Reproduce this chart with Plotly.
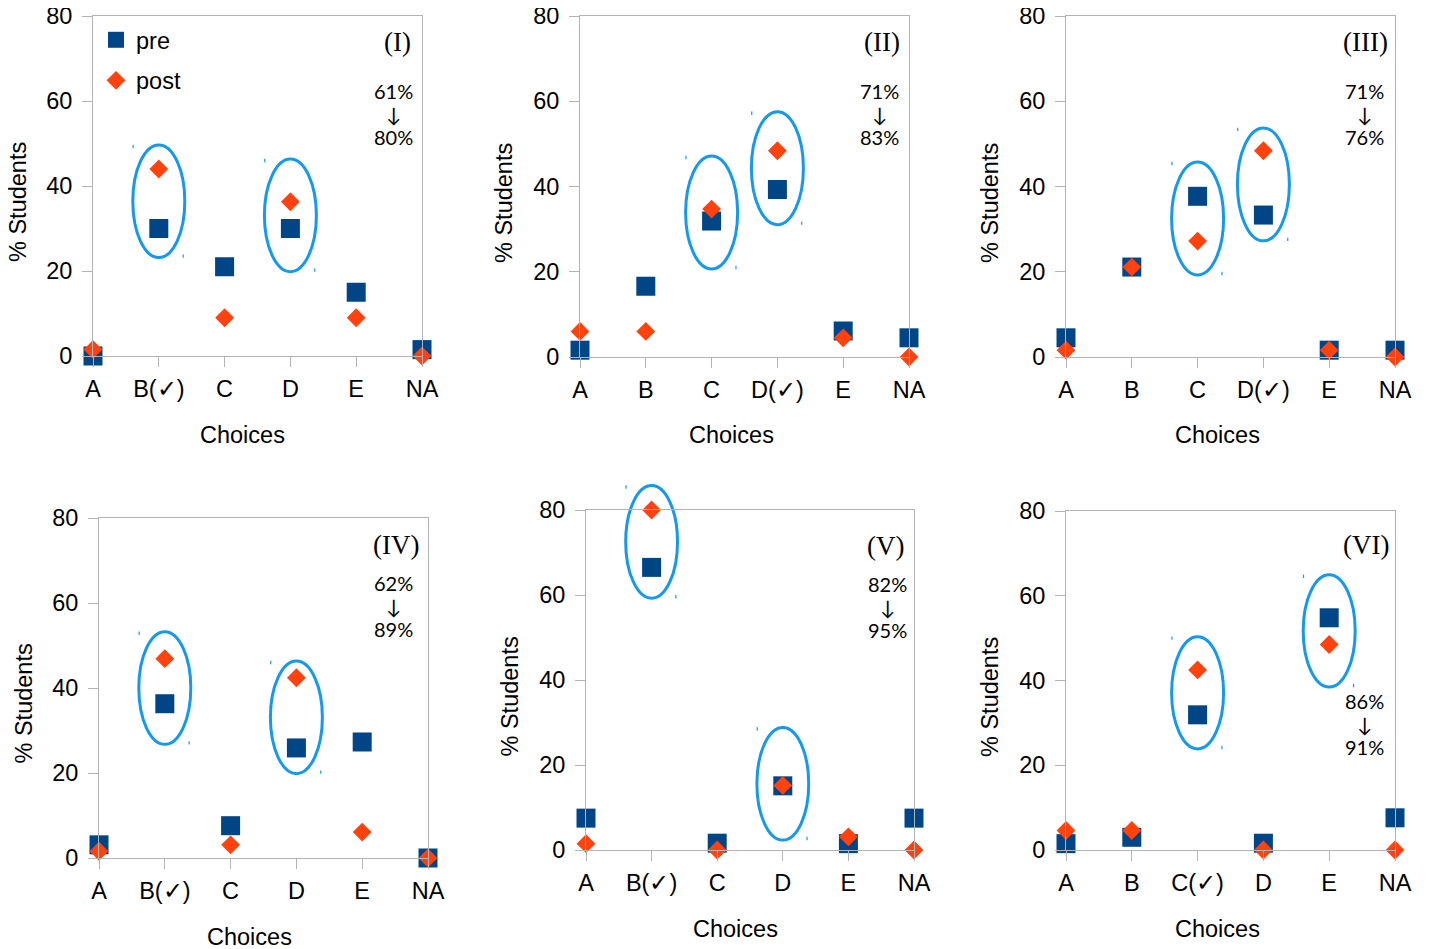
import plotly.graph_objects as go

# ---------------- data ----------------
cats_I = ["A", "B(✓)", "C", "D", "E", "NA"]
pre_I = [0, 30, 21, 30, 15, 1.5]
post_I = [1.5, 44, 9, 36.3, 9, 0]

cats_II = ["A", "B", "C", "D(✓)", "E", "NA"]
pre_II = [1.6, 16.6, 31.9, 39.3, 6.1, 4.5]
post_II = [6.0, 6.0, 34.7, 48.4, 4.5, 0]

cats_III = ["A", "B", "C", "D(✓)", "E", "NA"]
pre_III = [4.5, 21.1, 37.7, 33.3, 1.6, 1.6]
post_III = [1.6, 21.1, 27.2, 48.4, 1.6, 0]

cats_IV = ["A", "B(✓)", "C", "D", "E", "NA"]
pre_IV = [3.1, 36.3, 7.6, 25.9, 27.3, 0]
post_IV = [1.6, 46.9, 3.1, 42.4, 6.1, 0]

cats_V = ["A", "B(✓)", "C", "D", "E", "NA"]
pre_V = [7.5, 66.5, 1.6, 15.1, 1.5, 7.5]
post_V = [1.5, 80, 0, 15.2, 3.1, 0]

cats_VI = ["A", "B", "C(✓)", "D", "E", "NA"]
pre_VI = [1.5, 3.0, 31.9, 1.6, 54.8, 7.6]
post_VI = [4.6, 4.6, 42.5, 0, 48.5, 0]

panel_labels = ["(I)", "(II)", "(III)", "(IV)", "(V)", "(VI)"]
pct_before = ["61%", "71%", "71%", "62%", "82%", "86%"]
pct_after = ["80%", "83%", "76%", "89%", "95%", "91%"]

# circled choices (category index) and the value at the ellipse centre
circled_idx = [[1, 3], [2, 3], [2, 3], [1, 3], [1, 3], [2, 4]]
circled_mid = [[36.4, 33.1], [33.9, 44.3], [32.5, 40.5], [40.0, 33.1], [72.5, 15.6], [37.1, 51.7]]

cats = [cats_I, cats_II, cats_III, cats_IV, cats_V, cats_VI]
pres = [pre_I, pre_II, pre_III, pre_IV, pre_V, pre_VI]
posts = [post_I, post_II, post_III, post_IV, post_V, post_VI]

# ---------------- layout geometry (screen pixels) ----------------
W, H = 1430, 949
OFF = 8  # page body margin
boxes = [  # left, right, top, bottom of each plot area
    (93, 422, 16, 356),
    (580, 909, 16, 357),
    (1066, 1395, 16, 357),
    (99, 428, 518, 858),
    (586, 914, 510, 850),
    (1066, 1395, 511, 850),
]
label_pos = [(398, 42), (882, 42), (1365, 42), (396, 545), (886, 546), (1366, 545)]
pct_pos = [  # x, y of the arrow (middle line)
    (394, 114),
    (879, 114),
    (1364, 114),
    (394, 606),
    (887, 606.5),
    (1364, 724),
]
ytitle_pos = [(18, 202), (504, 203), (990, 203), (23.5, 704), (509.5, 697), (990, 697)]
xtitle_pos = [(243, 435), (731, 435), (1217, 435), (249, 937), (736, 929), (1217, 929)]

PRE_C = "#004586"
POST_C = "#ff420e"
RING_C = "#1499ee"
GRID_C = "#b3b3b3"
FONT = "Liberation Sans, Arial, sans-serif"
FS = 23.5

def px(x):
    return (x - OFF) / W

def py(y):
    return 1 - (y - OFF) / H

fig = go.Figure()
layout = dict(
    template="none",
    width=W, height=H, margin=dict(l=0, r=0, t=0, b=0, pad=0, autoexpand=False),
    paper_bgcolor="white", plot_bgcolor="white",
    font=dict(family=FONT, size=FS, color="black"),
    showlegend=True,
    legend=dict(x=px(96), y=py(18), xanchor="left", yanchor="top",
                bgcolor="rgba(0,0,0,0)", font=dict(size=FS),
                tracegroupgap=7, itemwidth=30),
)
annotations = []
shapes = []

for i in range(6):
    k = "" if i == 0 else str(i + 1)
    xa, ya = "x" + k, "y" + k
    l, r, t, b = boxes[i]
    fig.add_trace(go.Scatter(
        x=cats[i], y=pres[i], mode="markers", name="pre",
        marker=dict(symbol="square", size=19, color=PRE_C),
        xaxis=xa, yaxis=ya, cliponaxis=False, showlegend=(i == 0),
        legendgroup="pre"))
    fig.add_trace(go.Scatter(
        x=cats[i], y=posts[i], mode="markers", name="post",
        marker=dict(symbol="diamond", size=14.5, color=POST_C),
        xaxis=xa, yaxis=ya, cliponaxis=False, showlegend=(i == 0),
        legendgroup="post"))
    layout["xaxis" + k] = dict(
        domain=[px(l), px(r)], anchor=ya, type="category",
        categoryorder="array", categoryarray=cats[i], range=[0, 5],
        showgrid=False, zeroline=False, showline=True, mirror=True,
        linecolor=GRID_C, linewidth=1, ticks="outside", ticklen=10,
        tickcolor=GRID_C, tickfont=dict(size=FS), ticklabelstandoff=2,
        ticklabeloverflow="allow", fixedrange=True, automargin=False)
    layout["yaxis" + k] = dict(
        domain=[py(b), py(t)], anchor=xa, range=[0, 80],
        tickvals=[0, 20, 40, 60, 80], showgrid=False, zeroline=False,
        showline=True, mirror=True, linecolor=GRID_C, linewidth=1,
        ticks="outside", ticklen=10, tickcolor=GRID_C,
        tickfont=dict(size=FS), ticklabelstandoff=5,
        ticklabeloverflow="allow", fixedrange=True, automargin=False)

    # ellipses around the key choices
    for ci, mid in zip(circled_idx[i], circled_mid[i]):
        shapes.append(dict(
            type="circle", xref=xa, yref=ya + " domain",
            x0=ci - 0.395, x1=ci + 0.395,
            y0=(mid - 13.25) / 80, y1=(mid + 13.25) / 80,
            line=dict(color=RING_C, width=3), layer="below"))
        shapes.append(dict(
            type="line", xref=xa, yref=ya + " domain",
            x0=ci - 0.39, x1=ci - 0.39,
            y0=(mid + 13.3) / 80, y1=(mid + 12.5) / 80,
            line=dict(color=RING_C, width=1.2)))
        shapes.append(dict(
            type="line", xref=xa, yref=ya + " domain",
            x0=ci + 0.37, x1=ci + 0.37,
            y0=(mid - 13.3) / 80, y1=(mid - 12.5) / 80,
            line=dict(color=RING_C, width=1.2)))

    lx, ly = label_pos[i]
    annotations.append(dict(
        text=panel_labels[i], x=px(lx), y=py(ly), xref="paper", yref="paper",
        xanchor="center", yanchor="middle", showarrow=False,
        font=dict(family="Liberation Serif, Times New Roman, serif", size=27)))
    cx, cy = pct_pos[i]
    pct_text = "<br>".join(
        '<span style="font-size:20px">%s</span>' % s
        for s in (pct_before[i], "↓", pct_after[i]))
    annotations.append(dict(
        text=pct_text, x=px(cx), y=py(cy), xref="paper", yref="paper",
        xanchor="center", yanchor="middle", showarrow=False, align="center",
        font=dict(family="Lato, DejaVu Sans, sans-serif", size=17.8)))
    tx, ty = ytitle_pos[i]
    annotations.append(dict(
        text="% Students", x=px(tx), y=py(ty), xref="paper", yref="paper",
        xanchor="center", yanchor="middle", showarrow=False, textangle=-90,
        font=dict(size=FS)))
    tx, ty = xtitle_pos[i]
    annotations.append(dict(
        text="Choices", x=px(tx), y=py(ty), xref="paper", yref="paper",
        xanchor="center", yanchor="middle", showarrow=False,
        font=dict(size=FS)))

layout["annotations"] = annotations
layout["shapes"] = shapes
fig.update_layout(**layout)
fig.write_html("out.html")
